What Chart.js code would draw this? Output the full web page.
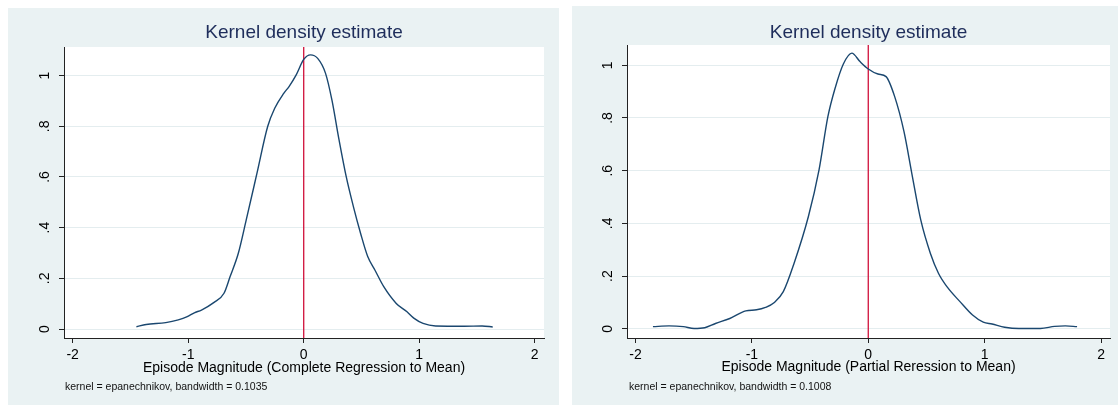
<!DOCTYPE html>
<html>
<head>
<meta charset="utf-8">
<script src="https://cdn.jsdelivr.net/npm/chart.js@4.4.1/dist/chart.umd.min.js"></script>
<style>
  html, body { margin: 0; padding: 0; background: #fff; }
  body { width: 1118px; height: 405px; position: relative; overflow: hidden; }
  .panel { position: absolute; background: #EAF2F3; }
  #pLeft  { left: 8px;   top: 8px; width: 551px; height: 397px; }
  #pRight { left: 572px; top: 6px; width: 546px; height: 399px; }
  canvas { display: block; }
</style>
</head>
<body>
<div class="panel" id="pLeft"><canvas id="chartLeft" width="551" height="397"></canvas></div>
<div class="panel" id="pRight"><canvas id="chartRight" width="546" height="399"></canvas></div>
<script>
// ---------- data ----------
const chartTitle = 'Kernel density estimate';

const xTicks = [-2, -1, 0, 1, 2];
const xTickLabels = ['-2', '-1', '0', '1', '2'];
const yTicks = [0, 0.2, 0.4, 0.6, 0.8, 1];
const yTickLabels = ['0', '.2', '.4', '.6', '.8', '1'];

// left: complete regression to mean
const leftXTitle = 'Episode Magnitude (Complete Regression to Mean)';
const leftNote = 'kernel = epanechnikov, bandwidth = 0.1035';
const leftX = [-1.448, -1.364, -1.194, -1.086, -1.008, -0.947, -0.885, -0.776, -0.690, -0.637,
  -0.566, -0.498, -0.405, -0.312, -0.251, -0.173, -0.127, -0.065, 0.0, 0.059,
  0.121, 0.189, 0.244, 0.306, 0.368, 0.430, 0.492, 0.554, 0.616, 0.693,
  0.801, 0.894, 0.956, 1.033, 1.142, 1.389, 1.544, 1.636];
const leftY = [0.009, 0.018, 0.025, 0.036, 0.049, 0.064, 0.075, 0.105, 0.141, 0.207,
  0.299, 0.430, 0.614, 0.799, 0.871, 0.930, 0.957, 1.003, 1.064, 1.082,
  1.068, 1.009, 0.904, 0.746, 0.601, 0.483, 0.378, 0.286, 0.233, 0.167,
  0.101, 0.068, 0.042, 0.022, 0.012, 0.011, 0.012, 0.008];

// right: partial regression to mean
const rightXTitle = 'Episode Magnitude (Partial Reression to Mean)';
const rightNote = 'kernel = epanechnikov, bandwidth = 0.1008';
const rightX = [-1.850, -1.712, -1.589, -1.497, -1.405, -1.313, -1.190, -1.052, -0.960, -0.883,
  -0.807, -0.730, -0.638, -0.515, -0.423, -0.347, -0.285, -0.215, -0.141, -0.071,
  0.0, 0.083, 0.153, 0.227, 0.307, 0.374, 0.451, 0.534, 0.604, 0.681,
  0.788, 0.896, 0.988, 1.064, 1.172, 1.294, 1.479, 1.601, 1.693, 1.794];
const rightY = [0.008, 0.011, 0.008, 0.001, 0.004, 0.020, 0.039, 0.068, 0.072, 0.081,
  0.100, 0.141, 0.248, 0.425, 0.603, 0.805, 0.913, 1.004, 1.046, 1.014,
  0.986, 0.967, 0.957, 0.881, 0.748, 0.590, 0.413, 0.286, 0.210, 0.157,
  0.103, 0.052, 0.025, 0.018, 0.006, 0.001, 0.001, 0.009, 0.011, 0.008];

const refLineX = 0;

// ---------- styling ----------
const FONT = "'Liberation Sans', Arial, Helvetica, sans-serif";
const NAVY = '#1A476F';
const RED = '#D0103A';
const AXIS = '#222222';
const GRID = '#E4EDEF';

// white plot region (Stata style: tinted graph region, white plot region)
const plotBg = {
  id: 'plotBg',
  beforeDraw(chart) {
    const { ctx, chartArea: a } = chart;
    ctx.save();
    ctx.fillStyle = '#ffffff';
    ctx.fillRect(a.left, a.top, a.right - a.left, a.bottom - a.top);
    ctx.restore();
  }
};

function makeChart(id, xs, ys, xTitle, note, g) {
  const pts = xs.map((x, i) => ({ x, y: ys[i] }));
  const notePlugin = {
    id: 'note',
    afterDraw(chart) {
      const ctx = chart.ctx;
      ctx.save();
      ctx.font = '10.5px ' + FONT;
      ctx.fillStyle = '#111';
      ctx.textBaseline = 'middle';
      ctx.textAlign = 'left';
      ctx.fillText(note, g.noteX, g.noteY);
      ctx.restore();
    }
  };

  return new Chart(document.getElementById(id), {
    type: 'scatter',
    data: {
      datasets: [
        {
          data: pts,
          showLine: true,
          borderColor: NAVY,
          borderWidth: 1.4,
          pointRadius: 0,
          cubicInterpolationMode: 'monotone'
        },
        {
          data: [{ x: refLineX, y: g.yMin }, { x: refLineX, y: g.yMax }],
          showLine: true,
          borderColor: RED,
          borderWidth: 1.3,
          pointRadius: 0
        }
      ]
    },
    options: {
      responsive: false,
      animation: false,
      devicePixelRatio: 1,
      layout: { padding: { left: 0, top: 0, right: g.padRight, bottom: 0 } },
      plugins: {
        legend: { display: false },
        tooltip: { enabled: false },
        title: {
          display: true,
          text: chartTitle,
          fullSize: false,
          color: '#1E2D5B',
          font: { family: FONT, size: 19, weight: 'normal', lineHeight: 1.2 },
          padding: { top: g.titleTop, bottom: g.titleBottom }
        }
      },
      scales: {
        x: {
          type: 'linear',
          min: g.xMin,
          max: g.xMax,
          afterBuildTicks: (s) => { s.ticks = xTicks.map(v => ({ value: v })); },
          afterFit: (s) => { s.height = g.xHeight; },
          border: { display: true, color: AXIS, width: 1 },
          grid: { display: true, drawOnChartArea: false, drawTicks: true, tickLength: 5, tickColor: AXIS },
          ticks: {
            color: '#000',
            font: { family: FONT, size: 14 },
            padding: 3.4,
            maxRotation: 0,
            callback: (v, i) => xTickLabels[i]
          },
          title: {
            display: true,
            text: xTitle,
            color: '#000',
            font: { family: FONT, size: 14, lineHeight: 1.2 },
            padding: { top: 0, bottom: g.xTitleBottom }
          }
        },
        y: {
          type: 'linear',
          min: g.yMin,
          max: g.yMax,
          afterBuildTicks: (s) => { s.ticks = yTicks.map(v => ({ value: v })); },
          afterFit: (s) => { s.width = g.yWidth; },
          border: { display: true, color: AXIS, width: 1 },
          grid: { display: true, drawOnChartArea: true, color: GRID, lineWidth: 1, drawTicks: true, tickLength: 5, tickColor: AXIS },
          ticks: {
            color: '#000',
            font: { family: FONT, size: 14 },
            padding: 8.2,
            minRotation: 90,
            maxRotation: 90,
            crossAlign: 'center',
            callback: (v, i) => yTickLabels[i]
          }
        }
      }
    },
    plugins: [plotBg, notePlugin]
  });
}

makeChart('chartLeft', leftX, leftY, leftXTitle, leftNote, {
  xMin: -2.075, xMax: 2.08, yMin: -0.0355, yMax: 1.113,
  padRight: 15, yWidth: 56, xHeight: 67,
  titleTop: 13.6, titleBottom: 2.6, xTitleBottom: 28.6,
  noteX: 57, noteY: 379
});

makeChart('chartRight', rightX, rightY, rightXTitle, rightNote, {
  xMin: -2.073, xMax: 2.077, yMin: -0.035, yMax: 1.077,
  padRight: 8, yWidth: 55, xHeight: 67,
  titleTop: 14.9, titleBottom: 1.3, xTitleBottom: 29.3,
  noteX: 57, noteY: 380.7
});
</script>
</body>
</html>
